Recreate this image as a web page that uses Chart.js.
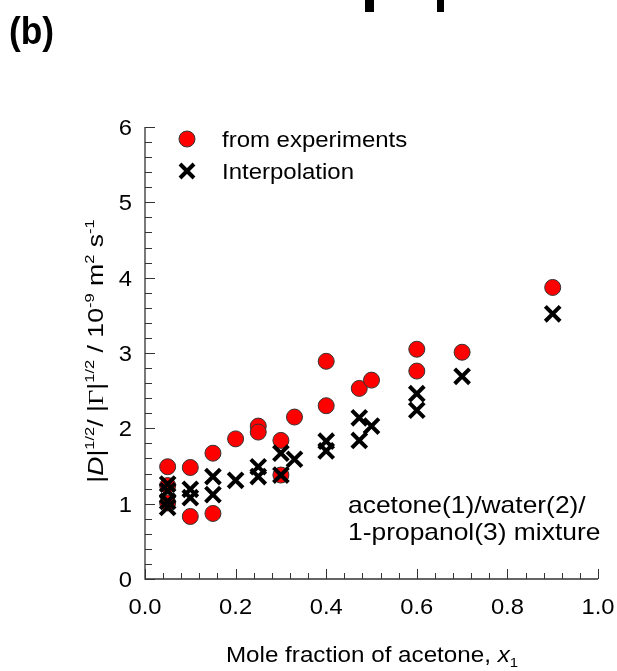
<!DOCTYPE html>
<html><head><meta charset="utf-8">
<script src="https://cdn.jsdelivr.net/npm/chart.js@4.4.0/dist/chart.umd.min.js"></script>
<style>html,body{margin:0;padding:0;background:#fff;}</style>
</head><body>
<canvas id="c" width="617" height="671"></canvas>
<script>
// ---- data ----
const expX = [0.05,0.05,0.05,0.10,0.10,0.15,0.15,0.20,0.25,0.25,0.30,0.30,0.33,0.40,0.40,0.473,0.50,0.60,0.60,0.70,0.90];
const expY = [1.49,1.24,1.01,1.48,0.83,1.67,0.87,1.86,2.03,1.95,1.84,1.38,2.15,2.89,2.30,2.53,2.64,3.05,2.76,3.01,3.87];
const intX = [0.05,0.05,0.05,0.05,0.10,0.10,0.15,0.15,0.20,0.25,0.25,0.30,0.30,0.33,0.40,0.40,0.473,0.473,0.50,0.60,0.60,0.70,0.90];
const intY = [1.26,1.17,1.03,0.95,1.19,1.08,1.36,1.12,1.31,1.49,1.36,1.67,1.38,1.59,1.83,1.70,2.14,1.84,2.03,2.46,2.24,2.69,3.52];
const xTickValues = [0,0.2,0.4,0.6,0.8,1.0];
const xTickLabels = ['0.0','0.2','0.4','0.6','0.8','1.0'];
const yTickValues = [0,1,2,3,4,5,6];
const yTickLabels = ['0','1','2','3','4','5','6'];
const xMinorStep = 0.04, yMinorStep = 0.2;
const seriesNames = ['from experiments','Interpolation'];
const panelLabel = '(b)';
const noteLines = ['acetone(1)/water(2)/','1-propanol(3) mixture'];

const F = '"Liberation Sans", Arial, sans-serif';

function font(size, bold, italic, fam){ return (italic?'italic ':'')+(bold?'bold ':'')+size+'px '+(fam||F); }

function runsWidth(ctx, runs, size){
  let w=0;
  for(const r of runs){ const s = r.sup||r.sub ? size*0.62 : size; ctx.font = font(s, r.bold, r.italic, r.fam); w += ctx.measureText(r.t).width; }
  return w;
}
function drawRuns(ctx, runs, x, y, size, align, sx){
  ctx.save();
  ctx.translate(x,y); ctx.scale(sx,1);
  const w = runsWidth(ctx, runs, size);
  let cx = align==='center' ? -w/2 : align==='right' ? -w : 0;
  ctx.textAlign='left'; ctx.textBaseline='alphabetic'; ctx.fillStyle='#000';
  for(const r of runs){
    const s = r.sup||r.sub ? size*0.62 : size;
    ctx.font = font(s, r.bold, r.italic, r.fam);
    const dy = r.sup ? -size*0.42 : r.sub ? size*0.22 : 0;
    ctx.fillText(r.t, cx, dy);
    cx += ctx.measureText(r.t).width;
  }
  ctx.restore();
}

const decor = {
  id:'decor',
  afterDatasetsDraw(chart){
    const ctx = chart.ctx, xs = chart.scales.x, ys = chart.scales.y;
    const a = chart.chartArea;
    ctx.save();
    // axes
    ctx.strokeStyle='#333'; ctx.lineWidth=1.3;
    ctx.beginPath(); ctx.moveTo(a.left, a.top); ctx.lineTo(a.left, a.bottom); ctx.lineTo(a.right, a.bottom); ctx.stroke();
    // ticks (inward)
    ctx.lineWidth=1;
    for(let i=0;i<=Math.round(1/xMinorStep);i++){
      const v = i*xMinorStep; const px = Math.round(xs.getPixelForValue(v))+0.5;
      const major = Math.abs(v/0.2 - Math.round(v/0.2))<1e-6;
      ctx.beginPath(); ctx.moveTo(px, a.bottom); ctx.lineTo(px, a.bottom-(major?10:6)); ctx.stroke();
    }
    for(let i=0;i<=Math.round(6/yMinorStep);i++){
      const v = i*yMinorStep; const py = Math.round(ys.getPixelForValue(v))+0.5;
      const major = Math.abs(v - Math.round(v))<1e-6;
      ctx.beginPath(); ctx.moveTo(a.left, py); ctx.lineTo(a.left+(major?10:7), py); ctx.stroke();
    }
    // tick labels
    xTickValues.forEach((v,i)=>drawRuns(ctx,[{t:xTickLabels[i]}], xs.getPixelForValue(v), a.bottom+35, 22, 'center', 1.08));
    yTickValues.forEach((v,i)=>drawRuns(ctx,[{t:yTickLabels[i]}], a.left-13, ys.getPixelForValue(v)+8, 22, 'right', 1.08));
    // x title
    drawRuns(ctx,[{t:'Mole fraction of acetone, '},{t:'x',italic:true},{t:'1',sub:true}], 372, 662, 22, 'center', 1.1);
    // y title
    ctx.save(); ctx.translate(103, 351); ctx.rotate(-Math.PI/2);
    drawRuns(ctx,[{t:'|'},{t:'D',italic:true},{t:'|'},{t:'1/2',sup:true},{t:'/ |'},{t:'\u0393',fam:'"Liberation Serif", serif'},{t:'|'},{t:'1/2',sup:true},{t:' / 10'},{t:'-9',sup:true},{t:' m'},{t:'2',sup:true},{t:' s'},{t:'-1',sup:true}], 0, 0, 22, 'center', 1.21);
    ctx.restore();
    // legend
    ctx.beginPath(); ctx.arc(187,139,8,0,Math.PI*2); ctx.fillStyle='#ff0000'; ctx.fill(); ctx.strokeStyle='#333'; ctx.lineWidth=1; ctx.stroke();
    ctx.strokeStyle='#000'; ctx.lineWidth=4; ctx.lineCap='butt';
    ctx.beginPath(); ctx.moveTo(180,164); ctx.lineTo(194,178); ctx.moveTo(194,164); ctx.lineTo(180,178); ctx.stroke();
    drawRuns(ctx,[{t:seriesNames[0]}], 222, 147, 22, 'left', 1.09);
    drawRuns(ctx,[{t:seriesNames[1]}], 222, 179, 22, 'left', 1.09);
    // note
    drawRuns(ctx,[{t:noteLines[0]}], 348, 513, 24, 'left', 1.1);
    drawRuns(ctx,[{t:noteLines[1]}], 348, 540, 24, 'left', 1.1);
    // panel label
    drawRuns(ctx,[{t:panelLabel,bold:true}], 9, 44, 38, 'left', 0.93);
    // remnants of neighbour panel at the top edge
    ctx.fillStyle='#000'; ctx.fillRect(365,0,9,12); ctx.fillRect(437,0,7,12);
    ctx.restore();
  }
};

new Chart(document.getElementById('c'), {
  type:'scatter',
  data:{ datasets:[
    { label:seriesNames[1], data:intX.map((x,i)=>({x, y:intY[i]})), pointStyle:'crossRot', radius:10.5, borderColor:'#000', borderWidth:4, order:0 },
    { label:seriesNames[0], data:expX.map((x,i)=>({x, y:expY[i]})), pointStyle:'circle', radius:8, backgroundColor:'#ff0000', borderColor:'#333', borderWidth:1, order:1 }
  ]},
  options:{
    responsive:false, animation:false, devicePixelRatio:1,
    layout:{ padding:{ left:145, right:19, top:127, bottom:92 } },
    plugins:{ legend:{display:false}, tooltip:{enabled:false} },
    scales:{
      x:{ type:'linear', min:0, max:1, display:false },
      y:{ type:'linear', min:0, max:6, display:false }
    }
  },
  plugins:[decor]
});
</script>
</body></html>
